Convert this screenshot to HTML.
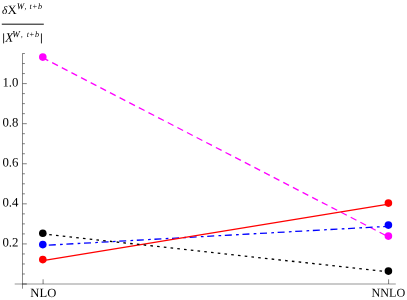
<!DOCTYPE html>
<html><head><meta charset="utf-8">
<style>
html,body{margin:0;padding:0;background:#fff;}
svg{display:block;will-change:transform;}
text{font-family:"Liberation Serif",serif;fill:#000;text-rendering:geometricPrecision;}
</style></head><body>
<svg width="407" height="300" viewBox="0 0 407 300">
<rect width="407" height="300" fill="#fff"/>
<!-- axes -->
<g stroke="#000" stroke-width="0.5" fill="none" shape-rendering="auto">
<line x1="22.5" y1="53.4" x2="22.5" y2="288.7" stroke-width="0.46"/>
<line x1="14.7" y1="284" x2="395.8" y2="284" stroke-width="0.42"/>
<line x1="22.5" y1="284" x2="26.8" y2="284" stroke-width="0.6"/>
<!-- x ticks -->
<line x1="43.1" y1="284" x2="43.1" y2="279.3"/>
<line x1="388.6" y1="284" x2="388.6" y2="279.3"/>
</g>
<g stroke="#000" stroke-width="0.5">
<line x1="22.5" y1="273.98" x2="24.9" y2="273.98"/>
<line x1="22.5" y1="263.96" x2="24.9" y2="263.96"/>
<line x1="22.5" y1="253.94" x2="24.9" y2="253.94"/>
<line x1="22.5" y1="243.92" x2="26.8" y2="243.92"/>
<line x1="22.5" y1="233.90" x2="24.9" y2="233.90"/>
<line x1="22.5" y1="223.88" x2="24.9" y2="223.88"/>
<line x1="22.5" y1="213.86" x2="24.9" y2="213.86"/>
<line x1="22.5" y1="203.84" x2="26.8" y2="203.84"/>
<line x1="22.5" y1="193.82" x2="24.9" y2="193.82"/>
<line x1="22.5" y1="183.80" x2="24.9" y2="183.80"/>
<line x1="22.5" y1="173.78" x2="24.9" y2="173.78"/>
<line x1="22.5" y1="163.76" x2="26.8" y2="163.76"/>
<line x1="22.5" y1="153.74" x2="24.9" y2="153.74"/>
<line x1="22.5" y1="143.72" x2="24.9" y2="143.72"/>
<line x1="22.5" y1="133.70" x2="24.9" y2="133.70"/>
<line x1="22.5" y1="123.68" x2="26.8" y2="123.68"/>
<line x1="22.5" y1="113.66" x2="24.9" y2="113.66"/>
<line x1="22.5" y1="103.64" x2="24.9" y2="103.64"/>
<line x1="22.5" y1="93.62" x2="24.9" y2="93.62"/>
<line x1="22.5" y1="83.60" x2="26.8" y2="83.60"/>
<line x1="22.5" y1="73.58" x2="24.9" y2="73.58"/>
<line x1="22.5" y1="63.56" x2="24.9" y2="63.56"/>
<line x1="22.5" y1="53.54" x2="24.9" y2="53.54"/>
</g>
<!-- lines -->
<line x1="42.8" y1="57.85" x2="388.6" y2="236.9" stroke="#ff00ff" stroke-width="1.3" stroke-dasharray="6.45,4.395" stroke-dashoffset="0.3"/>
<line x1="42.8" y1="245.45" x2="388.6" y2="226.3" stroke="#0000ff" stroke-width="1.3" stroke-dasharray="2.7,3.65,7,4.28" stroke-dashoffset="0.35"/>
<line x1="42.8" y1="260.68" x2="388.6" y2="204.04" stroke="#ff0000" stroke-width="1.3"/>
<line x1="42.8" y1="233.9" x2="388.6" y2="271.85" stroke="#000" stroke-width="1.3" stroke-dasharray="2.6,4.18" stroke-dashoffset="0.3"/>
<!-- points -->
<circle cx="42.8" cy="57.1" r="3.8" fill="#ff00ff"/>
<circle cx="388.4" cy="236.1" r="3.8" fill="#ff00ff"/>
<circle cx="42.8" cy="259.6" r="3.8" fill="#ff0000"/>
<circle cx="388.4" cy="203.1" r="3.8" fill="#ff0000"/>
<circle cx="42.8" cy="244.6" r="3.8" fill="#0000ff"/>
<circle cx="388.4" cy="225.1" r="3.8" fill="#0000ff"/>
<circle cx="42.8" cy="233.2" r="3.8" fill="#000"/>
<circle cx="388.4" cy="271.1" r="3.8" fill="#000"/>
<!-- labels -->
<g font-size="12.8" transform="matrix(1 0.0005 0 1 0 0)">
<text x="18.4" y="86.5" text-anchor="end">1.0</text>
<text x="18.4" y="126.5" text-anchor="end">0.8</text>
<text x="18.4" y="166.5" text-anchor="end">0.6</text>
<text x="18.4" y="206.5" text-anchor="end">0.4</text>
<text x="18.4" y="246.5" text-anchor="end">0.2</text>
<text x="43.3" y="297" text-anchor="middle" font-size="12.6">NLO</text>
<text x="388.4" y="296.6" text-anchor="middle" font-size="12.15">NNLO</text>
</g>
<!-- y label -->
<g font-size="12.3" transform="matrix(1 0.0005 0 1 0 0)">
<text y="14"><tspan x="2" font-style="italic" font-size="11.3">δ</tspan><tspan x="7.5" font-size="12.8">X</tspan></text>
<text y="9" font-size="8.2" font-style="italic"><tspan x="16.7" font-size="8.9">W</tspan><tspan x="24.4">,</tspan><tspan x="29.4">t</tspan><tspan x="32">+</tspan><tspan x="38">b</tspan></text>
<line x1="1.8" y1="24.18" x2="43.8" y2="24.18" stroke="#000" stroke-width="0.95"/>
<line x1="3.6" y1="33.4" x2="3.6" y2="43.4" stroke="#000" stroke-width="0.85"/>
<text x="5.3" y="41.7" font-style="italic" font-size="13">X</text>
<text y="37" font-size="8.2" font-style="italic"><tspan x="12.2" font-size="9">W</tspan><tspan x="20.8">,</tspan><tspan x="26.7">t</tspan><tspan x="28.9">+</tspan><tspan x="34.9">b</tspan></text>
<line x1="41.45" y1="33.4" x2="41.45" y2="43.4" stroke="#000" stroke-width="0.85"/>
</g>
</svg>

</body></html>
